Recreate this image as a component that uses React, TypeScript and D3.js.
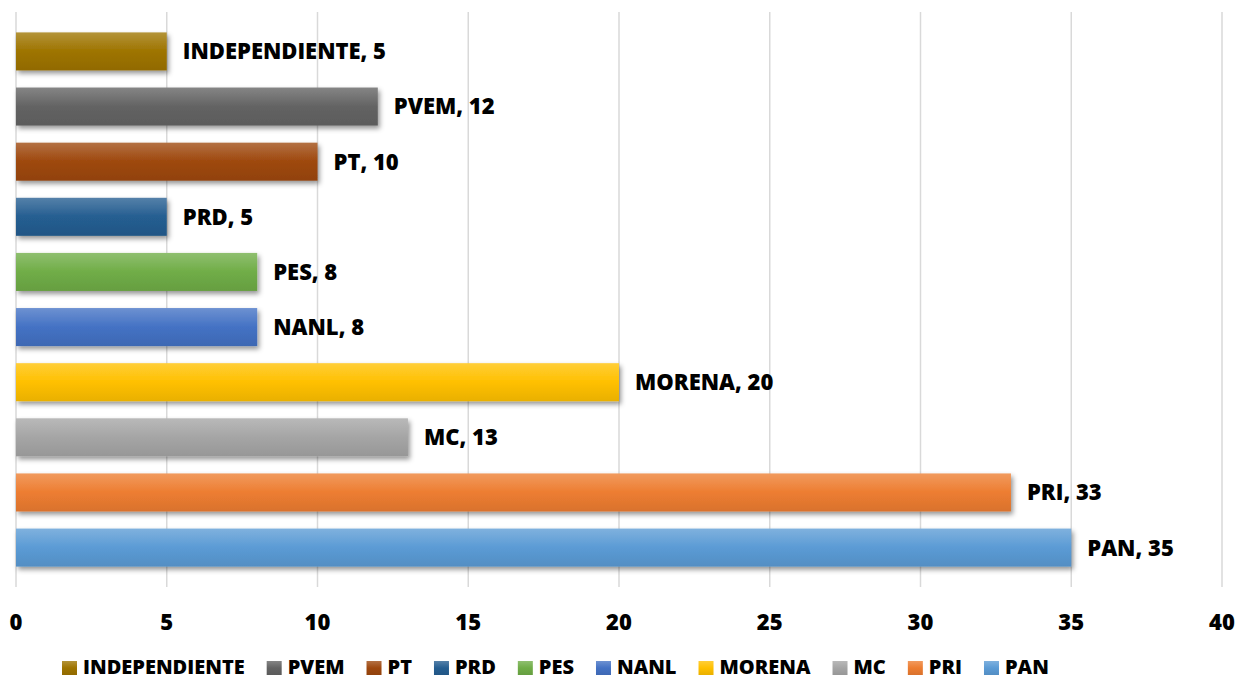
import React, { useEffect, useRef } from 'react';
import * as d3 from 'd3';

// parties, top to bottom as in the chart
const parties = ['INDEPENDIENTE', 'PVEM', 'PT', 'PRD', 'PES', 'NANL', 'MORENA', 'MC', 'PRI', 'PAN'];
const seats = [5, 12, 10, 5, 8, 8, 20, 13, 33, 35];
const colors = ['#9E7400', '#636363', '#9E480E', '#255E91', '#70AD47', '#4472C4', '#FFC000', '#A5A5A5', '#ED7D31', '#5B9BD5'];
const xTicks = [0, 5, 10, 15, 20, 25, 30, 35, 40];

const W = 1240;
const H = 680;
const plot = { left: 16, right: 1222, top: 12, bottom: 587 };
const FONT = '"Open Sans", Lato, sans-serif';

export default function App() {
  const ref = useRef<SVGSVGElement>(null);

  useEffect(() => {
    const svg = d3.select(ref.current);
    svg.selectAll('*').remove();

    const x = d3.scaleLinear().domain([0, 40]).range([plot.left, plot.right]);
    const y = d3.scaleBand<string>()
      .domain(parties)
      .range([plot.top, plot.bottom])
      .paddingInner(0.31)
      .paddingOuter(0.37);

    const defs = svg.append('defs');
    parties.forEach((p, i) => {
      const c = d3.color(colors[i])!;
      const g = defs.append('linearGradient')
        .attr('id', `grad-${i}`)
        .attr('x1', 0).attr('y1', 0).attr('x2', 0).attr('y2', 1);
      g.append('stop').attr('offset', '0%').attr('stop-color', d3.interpolateRgb(colors[i], '#ffffff')(0.22));
      g.append('stop').attr('offset', '50%').attr('stop-color', colors[i]);
      g.append('stop').attr('offset', '100%').attr('stop-color', c.darker(0.25).toString());
    });
    defs.append('filter')
      .attr('id', 'shadow')
      .attr('x', '-5%').attr('y', '-30%').attr('width', '115%').attr('height', '180%')
      .append('feDropShadow')
      .attr('dx', 2).attr('dy', 3).attr('stdDeviation', 2.8)
      .attr('flood-color', '#000').attr('flood-opacity', 0.42);

    // gridlines
    svg.append('g')
      .selectAll('line')
      .data(xTicks)
      .join('line')
      .attr('x1', d => x(d)).attr('x2', d => x(d))
      .attr('y1', plot.top).attr('y2', plot.bottom)
      .attr('stroke', '#d9d9d9')
      .attr('stroke-width', 1.5);

    // bars
    svg.append('g')
      .selectAll('rect')
      .data(parties)
      .join('rect')
      .attr('x', x(0))
      .attr('y', d => y(d)!)
      .attr('width', (d, i) => x(seats[i]) - x(0))
      .attr('height', y.bandwidth())
      .attr('fill', (d, i) => `url(#grad-${i})`)
      .attr('filter', 'url(#shadow)');

    // data labels
    svg.append('g')
      .selectAll('text')
      .data(parties)
      .join('text')
      .attr('x', (d, i) => x(seats[i]) + 16)
      .attr('y', d => y(d)! + y.bandwidth() / 2)
      .attr('dy', '0.36em')
      .attr('font-family', FONT)
      .attr('font-weight', 800)
      .attr('font-size', 22)
      .attr('fill', '#000')
      .text((d, i) => `${d}, ${seats[i]}`);

    // x axis labels
    svg.append('g')
      .selectAll('text')
      .data(xTicks)
      .join('text')
      .attr('x', d => x(d))
      .attr('y', 622)
      .attr('dy', '0.36em')
      .attr('text-anchor', 'middle')
      .attr('font-family', FONT)
      .attr('font-weight', 800)
      .attr('font-size', 22)
      .text(d => d);

    // legend
    const legend = svg.append('g');
    let lx = 62;
    parties.forEach((p, i) => {
      legend.append('rect')
        .attr('x', lx).attr('y', 661)
        .attr('width', 15).attr('height', 14)
        .attr('fill', `url(#grad-${i})`);
      const t = legend.append('text')
        .attr('x', lx + 21)
        .attr('y', 667)
        .attr('dy', '0.36em')
        .attr('font-family', FONT)
        .attr('font-weight', 800)
        .attr('font-size', 20)
        .text(p);
      const w = (t.node() as SVGTextElement).getComputedTextLength();
      lx += 21 + w + 22;
    });
  }, []);

  return (
    <svg
      ref={ref}
      width={W}
      height={H}
      style={{ position: 'absolute', left: 0, top: 0, background: '#fff' }}
    />
  );
}
